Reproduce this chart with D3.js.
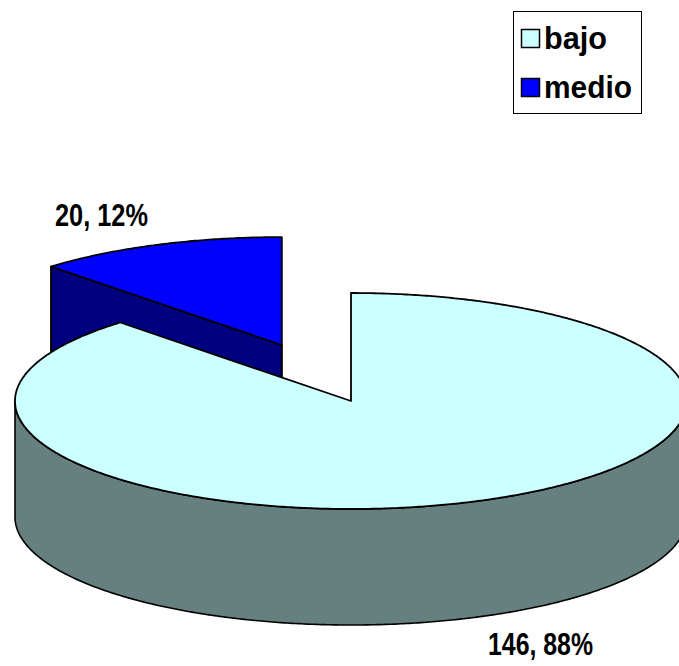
<!DOCTYPE html>
<html>
<head>
<meta charset="utf-8">
<script src="https://cdn.jsdelivr.net/npm/d3@7"></script>
<style>
  html, body { margin: 0; padding: 0; background: #fff; }
  svg { display: block; }
  text { font-family: "Liberation Sans", Arial, sans-serif; font-weight: bold; fill: #000; }
</style>
</head>
<body>
<svg id="chart" width="679" height="666"></svg>
<script>
// Survey categories and counts
const categories = ["bajo", "medio"];
const values = [146, 20];
const topColors = ["#CCFFFF", "#0000FF"];
const sideColors = ["#668080", "#000080"];

// Layout of the 3D pie
const W = 679, H = 666;
const cx = 351, cy = 401;      // centre of the top face
const rx = 336, ry = 108;      // ellipse radii of the top face
const depth = 116;             // thickness of the disc
const explodeFrac = [0, 0.557];// pull-out distance as a fraction of the radius

const svg = d3.select("#chart");
const color = d3.scaleOrdinal().domain(categories).range(topColors);
const sideColor = d3.scaleOrdinal().domain(categories).range(sideColors);

const total = d3.sum(values);
const pie = d3.pie().sort(null).startAngle(0).endAngle(2 * Math.PI);
const arcs = pie(values).map((d, i) => {
  const mid = (d.startAngle + d.endAngle) / 2;
  const e = explodeFrac[i];
  return {
    ...d,
    cat: categories[i],
    mid,
    ox: cx + rx * e * Math.sin(mid),
    oy: cy - ry * e * Math.cos(mid)
  };
});

// projected point on the rim, angle clockwise from 12 o'clock
function rim(a, x0, y0, dy = 0) {
  return [x0 + rx * Math.sin(a), y0 - ry * Math.cos(a) + dy];
}
function arcPoints(a0, a1, x0, y0, dy = 0) {
  const n = Math.max(2, Math.ceil(Math.abs(a1 - a0) / (Math.PI / 360)));
  return d3.range(n + 1).map(k => rim(a0 + (a1 - a0) * k / n, x0, y0, dy));
}
const line = d3.line().curve(d3.curveLinear);
const closed = pts => line(pts) + "Z";

// back slices first
const order = arcs.slice().sort((a, b) => a.oy - b.oy);

const g = svg.append("g");
order.forEach(d => {
  const s = d.startAngle, e = d.endAngle;
  const x0 = d.ox, y0 = d.oy;

  // outer wall: only the front half (angles between 90° and 270°) faces the viewer
  const w0 = Math.max(s, Math.PI / 2), w1 = Math.min(e, 3 * Math.PI / 2);
  if (w1 > w0) {
    const top = arcPoints(w0, w1, x0, y0);
    const bot = arcPoints(w1, w0, x0, y0, depth);
    g.append("path").attr("d", closed(top.concat(bot)))
      .attr("fill", sideColor(d.cat)).attr("stroke", "#000")
      .attr("stroke-width", 1.6).attr("stroke-linejoin", "round");
  }

  // radial cut faces
  const faces = [];
  if (Math.sin(s) < -1e-6) faces.push(s);
  if (Math.sin(e) > 1e-6) faces.push(e);
  faces.forEach(a => {
    const p = rim(a, x0, y0);
    const pts = [[x0, y0], p, [p[0], p[1] + depth], [x0, y0 + depth]];
    g.append("path").attr("d", closed(pts))
      .attr("fill", sideColor(d.cat)).attr("stroke", "#000")
      .attr("stroke-width", 2).attr("stroke-linejoin", "round");
  });

  // top face
  const topPts = [[x0, y0]].concat(arcPoints(s, e, x0, y0));
  g.append("path").attr("d", closed(topPts))
    .attr("fill", color(d.cat)).attr("stroke", "#000")
    .attr("stroke-width", 1.8).attr("stroke-linejoin", "round");
});

// data labels: "count, percent"
const labelFmt = (v) => `${v}, ${Math.round(v / total * 100)}%`;
const labelPos = { "bajo": [488, 655, 105], "medio": [55, 226, 93] };
arcs.forEach(d => {
  const [lx, ly, lw] = labelPos[d.cat];
  svg.append("text")
    .attr("x", lx).attr("y", ly)
    .attr("font-size", 32)
    .attr("textLength", lw).attr("lengthAdjust", "spacingAndGlyphs")
    .text(labelFmt(d.data));
});

// legend
const lg = svg.append("g");
lg.append("rect").attr("x", 513.5).attr("y", 11.5).attr("width", 128).attr("height", 102)
  .attr("fill", "#fff").attr("stroke", "#000").attr("stroke-width", 1);
const legendW = { "bajo": 63, "medio": 88 };
categories.forEach((c, i) => {
  const y = 29 + i * 49;
  lg.append("rect").attr("x", 521.5).attr("y", y + 0.5).attr("width", 18).attr("height", 18)
    .attr("fill", color(c)).attr("stroke", "#000").attr("stroke-width", 1.5);
  lg.append("text").attr("x", 544).attr("y", y + 20)
    .attr("font-size", 32)
    .attr("textLength", legendW[c]).attr("lengthAdjust", "spacingAndGlyphs")
    .text(c);
});
</script>
</body>
</html>
